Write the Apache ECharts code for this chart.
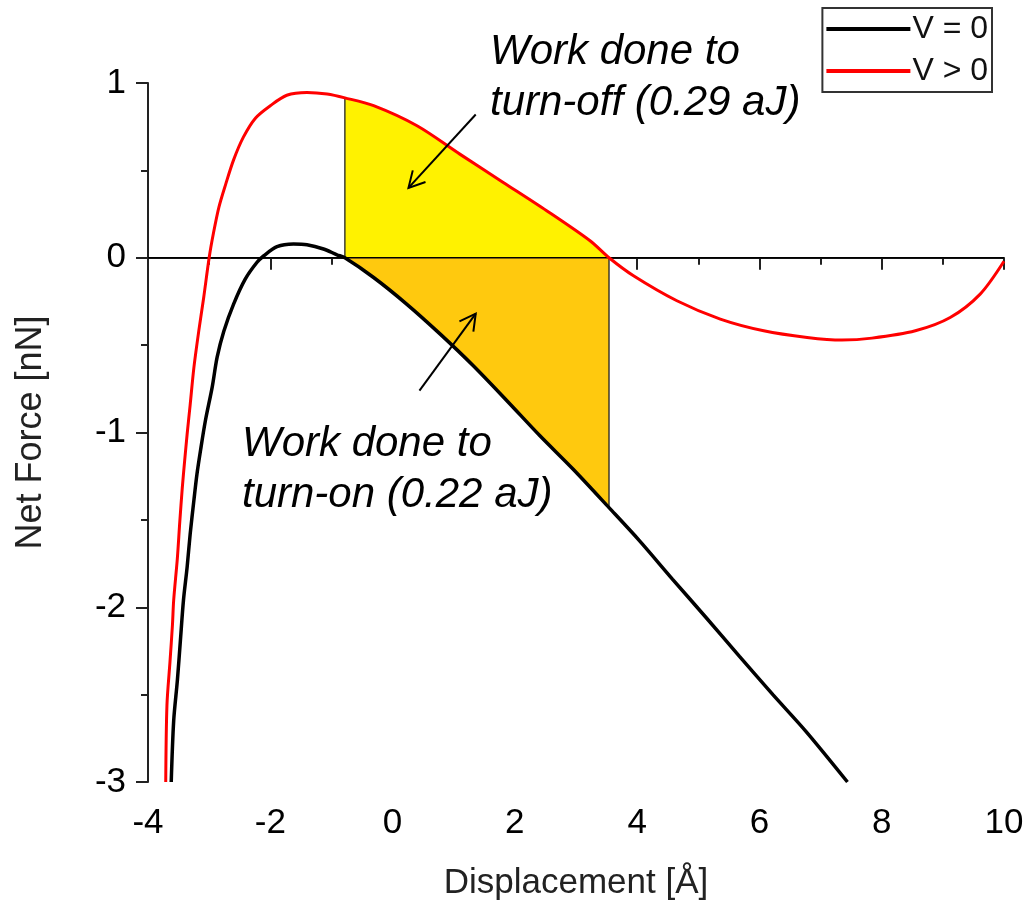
<!DOCTYPE html>
<html><head><meta charset="utf-8">
<script src="https://cdn.jsdelivr.net/npm/echarts@6/dist/echarts.min.js"></script>
<style>html,body{margin:0;padding:0;background:#fff}#c{width:1026px;height:904px}</style>
</head><body><div id="c"></div>
<script>
// ---- data ----
const seriesNames = ['V = 0', 'V > 0'];
// V = 0 (black)
const v0X = [-3.62,-3.58,-3.52,-3.47,-3.42,-3.36,-3.31,-3.25,-3.20,-3.14,-3.06,-2.95,-2.87,-2.76,-2.60,-2.41,-2.22,-2.11,-1.89,-1.62,-1.40,-1.13,-0.91,-0.78,-0.31,0.23,0.78,1.32,1.87,2.41,2.95,3.54,4.04,4.58,5.13,5.67,6.22,6.76,7.44];
const v0Y = [-3.0,-2.65,-2.42,-2.19,-1.96,-1.77,-1.58,-1.39,-1.24,-1.10,-0.93,-0.74,-0.57,-0.42,-0.265,-0.122,-0.027,0.01,0.063,0.078,0.074,0.05,0.017,0.0,-0.113,-0.265,-0.437,-0.618,-0.818,-1.019,-1.209,-1.43,-1.62,-1.84,-2.06,-2.28,-2.50,-2.71,-3.0];
// V > 0 (red)
const vPX = [-3.71,-3.69,-3.64,-3.60,-3.58,-3.52,-3.48,-3.44,-3.40,-3.36,-3.31,-3.25,-3.17,-3.09,-3.0,-2.93,-2.84,-2.73,-2.60,-2.44,-2.24,-2.00,-1.73,-1.40,-1.07,-0.78,-0.31,0.40,1.10,1.81,2.52,3.23,3.54,3.94,4.65,5.36,6.07,6.78,7.35,7.84,8.55,9.12,9.61,10.0];
const vPY = [-3.0,-2.56,-2.31,-2.10,-1.96,-1.72,-1.51,-1.32,-1.16,-1.01,-0.84,-0.63,-0.42,-0.23,0.0,0.14,0.29,0.42,0.56,0.69,0.80,0.87,0.93,0.946,0.937,0.915,0.87,0.755,0.593,0.431,0.269,0.097,0.0,-0.103,-0.246,-0.351,-0.418,-0.456,-0.471,-0.46,-0.418,-0.342,-0.208,-0.02];
// work interval bounds (Å)
const workStart = -0.78, workEnd = 3.54;
const annotationTexts = ['Work done to\nturn-off (0.29 aJ)', 'Work done to\nturn-on (0.22 aJ)'];
// arrows: [fromX, fromY, toX, toY] in data units
const arrowOff = [1.36, 0.82, 0.26, 0.40];
const arrowOn = [0.44, -0.76, 1.36, -0.32];
const xLimits = [-4, 10], xStep = 2;
const yLimits = [-3, 1], yStep = 1;
const xTitle = 'Displacement [Å]', yTitle = 'Net Force [nN]';

// ---- build ----
const zip = (xs, ys) => xs.map((x, i) => [x, ys[i]]);
const v0 = zip(v0X, v0Y), vP = zip(vPX, vPY);
const inWork = p => p[0] >= workStart - 1e-9 && p[0] <= workEnd + 1e-9;
const valAt = (arr, x) => arr.find(p => Math.abs(p[0] - x) < 1e-9)[1];

const FONT = '"Liberation Sans", Arial, sans-serif';
const chart = echarts.init(document.getElementById('c'), null, {renderer: 'canvas'});
const smoothCfg = {smooth: 0.3};

chart.setOption({
  animation: false,
  backgroundColor: '#fff',
  grid: {left: 148, right: 22, top: 83, bottom: 122, containLabel: false, outerBoundsMode: 'none'},
  legend: {
    data: [
      {name: seriesNames[0], icon: 'rect', itemStyle: {color: '#000'}},
      {name: seriesNames[1], icon: 'rect', itemStyle: {color: '#f00'}}
    ],
    orient: 'vertical', right: 34, top: 8,
    itemWidth: 84, itemHeight: 4, itemGap: 10,
    padding: [5, 4, 5, 4],
    borderColor: '#333', borderWidth: 2, borderRadius: 0,
    textStyle: {fontFamily: FONT, fontSize: 32, color: '#111', padding: [0, 0, 0, -3]},
    selectedMode: false
  },
  xAxis: {
    type: 'value', min: xLimits[0], max: xLimits[1], interval: xStep,
    name: xTitle, nameLocation: 'middle', nameGap: 84,
    nameTextStyle: {fontFamily: FONT, fontSize: 35, color: '#222'},
    axisLine: {lineStyle: {color: '#222', width: 2}},
    axisTick: {length: 12, lineStyle: {color: '#222', width: 2}},
    minorTick: {show: true, splitNumber: 2, length: 7, lineStyle: {color: '#222', width: 2}},
    axisLabel: {fontFamily: FONT, fontSize: 35, color: '#000', margin: 24},
    splitLine: {show: false}
  },
  yAxis: {
    type: 'value', min: yLimits[0], max: yLimits[1], interval: yStep,
    name: yTitle, nameLocation: 'middle', nameGap: 99, nameRotate: 90,
    nameTextStyle: {fontFamily: FONT, fontSize: 36, color: '#222'},
    axisLine: {onZero: false, lineStyle: {color: '#222', width: 2}},
    axisTick: {length: 12, lineStyle: {color: '#222', width: 2}},
    minorTick: {show: true, splitNumber: 2, length: 7, lineStyle: {color: '#222', width: 2}},
    axisLabel: {fontFamily: FONT, fontSize: 35, color: '#000', margin: 22},
    splitLine: {show: false}
  },
  series: [
    {type: 'line', name: 'offFill', data: vP.filter(inWork), symbol: 'none', ...smoothCfg,
     lineStyle: {width: 0}, areaStyle: {color: '#FFF200', opacity: 1}, z: 1, silent: true},
    {type: 'line', name: 'onFill', data: v0.filter(inWork), symbol: 'none', ...smoothCfg,
     lineStyle: {width: 0}, areaStyle: {color: '#FFC90E', opacity: 1}, z: 1, silent: true},
    {type: 'line', name: 'zero', data: [[xLimits[0], 0], [xLimits[1], 0]], symbol: 'none',
     lineStyle: {color: '#000', width: 1.3}, z: 2, silent: true},
    {type: 'line', name: 'bound1', data: [[workStart, 0], [workStart, valAt(vP, workStart)]], symbol: 'none',
     lineStyle: {color: '#222', width: 1.3}, z: 2, silent: true},
    {type: 'line', name: 'bound2', data: [[workEnd, valAt(v0, workEnd)], [workEnd, 0]], symbol: 'none',
     lineStyle: {color: '#222', width: 1.3}, z: 2, silent: true},
    {type: 'line', name: seriesNames[0], data: v0, symbol: 'none', ...smoothCfg,
     lineStyle: {color: '#000', width: 3.5}, itemStyle: {color: '#000'}, z: 4},
    {type: 'line', name: seriesNames[1], data: vP, symbol: 'none', ...smoothCfg,
     lineStyle: {color: '#f00', width: 3}, itemStyle: {color: '#f00'}, z: 5}
  ]
});

function arrow(a) {
  const p0 = chart.convertToPixel({gridIndex: 0}, [a[0], a[1]]);
  const p1 = chart.convertToPixel({gridIndex: 0}, [a[2], a[3]]);
  const ang = Math.atan2(p0[1] - p1[1], p0[0] - p1[0]);
  const L = 18, h = 0.5;
  const w1 = [p1[0] + L * Math.cos(ang + h), p1[1] + L * Math.sin(ang + h)];
  const w2 = [p1[0] + L * Math.cos(ang - h), p1[1] + L * Math.sin(ang - h)];
  const st = {stroke: '#000', lineWidth: 2, fill: null};
  return [
    {type: 'polyline', shape: {points: [p0, p1]}, style: st, z: 10},
    {type: 'polyline', shape: {points: [w1, p1, w2]}, style: st, z: 10}
  ];
}
const textStyle = (t, x, y) => ({type: 'text', x: x, y: y, z: 10,
  style: {text: t, font: 'italic 42px ' + FONT, fill: '#000', lineHeight: 51, textVerticalAlign: 'top'}});

chart.setOption({graphic: [
  ...arrow(arrowOff), ...arrow(arrowOn),
  textStyle(annotationTexts[0], 490, 27),
  textStyle(annotationTexts[1], 242, 419)
]});
</script></body></html>
